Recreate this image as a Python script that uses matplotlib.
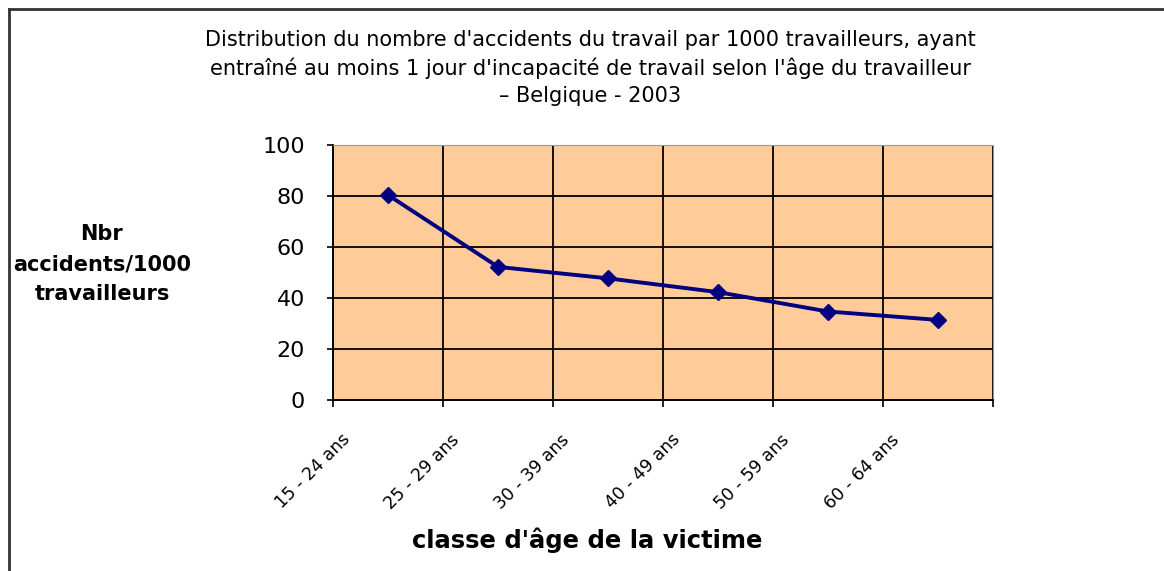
import matplotlib
matplotlib.use("Agg")
import matplotlib.pyplot as plt
from matplotlib.lines import Line2D

# data
age_classes = ["15 - 24 ans", "25 - 29 ans", "30 - 39 ans",
               "40 - 49 ans", "50 - 59 ans", "60 - 64 ans"]
accidents_per_1000 = [80.4, 52.2, 47.7, 42.3, 34.7, 31.4]
y_ticks = [0, 20, 40, 60, 80, 100]

TITLE = ("Distribution du nombre d'accidents du travail par 1000 travailleurs, ayant\n"
         "entraîné au moins 1 jour d'incapacité de travail selon l'âge du travailleur\n"
         "– Belgique - 2003")

fig = plt.figure(figsize=(11.64, 5.71), dpi=100)
ax = fig.add_axes([333 / 1164, 1 - 400 / 571, 660 / 1164, 255 / 571])
ax.set_facecolor("#FFCC99")

x = list(range(len(age_classes)))
ax.plot(x, accidents_per_1000, color="#000080", lw=2.8,
        marker="D", markersize=8.5, zorder=3)

ax.set_xlim(-0.5, len(age_classes) - 0.5)
ax.set_ylim(0, 100)

# category boundaries carry ticks and vertical grid
ax.set_xticks([i - 0.5 for i in range(len(age_classes) + 1)])
ax.set_xticklabels([])
ax.set_yticks(y_ticks)
ax.set_yticklabels([str(v) for v in y_ticks], fontsize=16)
ax.grid(True, color="black", lw=1.3, zorder=1)
ax.set_axisbelow(True)
ax.tick_params(axis="both", direction="out", length=5, width=1.2, color="black")
ax.tick_params(axis="y", pad=16, length=4)

for side in ["top", "right"]:
    ax.spines[side].set_color("#999999")
for side in ["left", "bottom"]:
    ax.spines[side].set_color("black")
    ax.spines[side].set_linewidth(1.4)

# rotated category labels
for i, lab in enumerate(age_classes):
    ax.text(i - 0.43, -0.12, lab, transform=ax.get_xaxis_transform(),
            rotation=45, ha="right", va="top", rotation_mode="anchor",
            fontsize=12.5)

fig.text(590 / 1164, 1 - 68 / 571, TITLE, ha="center", va="center",
         fontsize=15, linespacing=1.45)

fig.text(102 / 1164, 1 - 264 / 571, "Nbr\naccidents/1000\ntravailleurs",
         ha="center", va="center", fontsize=15, fontweight="bold",
         linespacing=1.6)
fig.text(587 / 1164, 1 - 540 / 571, "classe d'âge de la victime",
         ha="center", va="center", fontsize=17.5, fontweight="bold")

# outer chart frame (top and left edges visible in the reference)
fig.add_artist(Line2D([9 / 1164, 9 / 1164], [0, 1 - 9 / 571],
                      transform=fig.transFigure, color="#333333", lw=2))
fig.add_artist(Line2D([9 / 1164, 1], [1 - 9 / 571, 1 - 9 / 571],
                      transform=fig.transFigure, color="#333333", lw=2))

fig.savefig("out.png", dpi=100)
